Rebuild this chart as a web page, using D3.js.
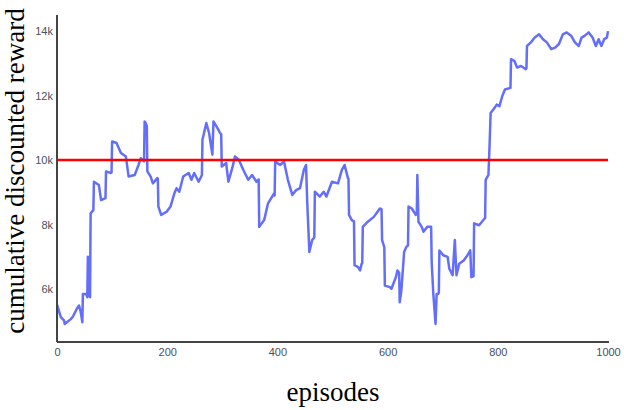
<!DOCTYPE html>
<html>
<head>
<meta charset="utf-8">
<script src="https://cdn.jsdelivr.net/npm/d3@7"></script>
<style>
  body { margin: 0; background: #fff; }
  .axis text { font-family: "Liberation Sans", Arial, sans-serif; font-size: 11px; fill: #4a4f5c; }
  .axis path { stroke: #444; stroke-width: 2; }
  .title { font-family: "Liberation Serif", "Times New Roman", serif; font-size: 27px; fill: #000; }
</style>
</head>
<body>
<div id="chart"></div>
<script>
// values
var episodes = [0, 7, 13, 14, 25, 29, 36, 40, 43, 46, 47, 53, 55, 56, 59, 60, 61, 66, 67, 76, 80, 88, 89, 98, 99, 100, 108, 116, 125, 130, 141, 148, 152, 158, 159, 161, 163, 164, 170, 174, 182, 183, 184, 189, 199, 206, 213, 217, 222, 229, 239, 244, 249, 257, 263, 264, 271, 276, 282, 284, 291, 296, 298, 299, 307, 311, 318, 323, 330, 338, 347, 354, 362, 366, 367, 376, 383, 394, 395, 396, 405, 412, 419, 427, 434, 441, 448, 452, 454, 458, 463, 467, 468, 477, 484, 489, 499, 510, 517, 522, 528, 529, 530, 535, 539, 540, 546, 550, 553, 554, 555, 564, 575, 586, 589, 590, 594, 595, 604, 607, 615, 618, 621, 622, 625, 630, 634, 637, 638, 644, 651, 653, 654, 656, 662, 665, 672, 679, 680, 683, 687, 689, 692, 693, 694, 701, 709, 712, 718, 722, 725, 730, 738, 745, 750, 752, 756, 757, 766, 776, 777, 778, 783, 785, 787, 792, 798, 803, 808, 813, 823, 824, 830, 835, 842, 851, 852, 853, 860, 867, 875, 882, 889, 897, 904, 911, 918, 925, 933, 940, 947, 952, 958, 965, 972, 978, 983, 988, 993, 998, 1000];
var rewards = [5520, 5130, 5020, 4920, 5070, 5150, 5390, 5490, 5300, 4970, 5850, 5850, 5750, 7000, 5800, 5750, 8350, 8450, 9330, 9230, 8760, 8820, 9650, 9600, 9620, 10580, 10530, 10220, 10110, 9490, 9540, 9850, 10060, 9960, 11200, 11150, 11050, 9650, 9490, 9280, 9440, 9420, 8560, 8300, 8400, 8560, 8970, 9130, 9020, 9490, 9600, 9390, 9600, 9330, 9540, 10630, 11150, 10840, 10170, 11200, 11000, 10840, 10800, 9800, 9910, 9330, 9750, 10110, 10010, 9700, 9390, 9540, 9330, 9400, 7930, 8140, 8660, 8970, 8900, 9960, 9850, 9960, 9390, 8920, 9070, 9130, 9700, 9850, 8760, 7150, 7520, 7600, 9020, 8870, 9020, 8870, 9330, 9280, 9700, 9850, 9440, 9420, 8300, 8140, 8100, 6740, 6690, 6580, 6790, 6800, 7930, 8090, 8240, 8500, 8480, 7520, 7300, 6110, 6060, 6010, 6370, 6580, 6500, 5590, 5960, 7150, 7310, 7350, 8560, 8500, 8300, 8350, 9540, 8090, 7930, 7780, 7930, 7930, 6840, 5850, 4920, 5850, 5850, 5900, 7200, 7050, 7000, 6630, 6430, 7520, 6430, 6790, 6890, 7050, 7200, 6370, 6400, 8040, 7980, 8190, 8200, 9390, 9540, 10430, 11460, 11570, 11720, 11670, 11980, 12190, 12240, 13130, 13080, 12870, 12920, 12820, 12850, 13540, 13650, 13800, 13900, 13750, 13650, 13440, 13490, 13600, 13900, 13960, 13860, 13650, 13540, 13800, 13860, 13960, 13800, 13540, 13750, 13540, 13750, 13800, 14000];
var baseline = 10000;
var xTicks = [0, 200, 400, 600, 800, 1000];
var yTicks = [6000, 8000, 10000, 12000, 14000];

var width = 624, height = 410;
var margin = { top: 15, right: 15, bottom: 68, left: 57 };

var svg = d3.select("#chart").append("svg")
    .attr("width", width)
    .attr("height", height);

var x = d3.scaleLinear().domain([0, 1000]).range([margin.left, width - margin.right - 1]);
var y = d3.scaleLinear().domain([4360, 14500]).range([height - margin.bottom, margin.top]);

var data = episodes.map(function (e, i) { return { ep: e, r: rewards[i] }; });

var line = d3.line()
    .x(function (d) { return x(d.ep); })
    .y(function (d) { return y(d.r); });

svg.append("path")
    .datum(data)
    .attr("fill", "none")
    .attr("stroke", "#636efa")
    .attr("stroke-width", 2.5)
    .attr("stroke-linejoin", "round")
    .attr("d", line);

svg.append("line")
    .attr("x1", x(0)).attr("x2", x(1000))
    .attr("y1", y(baseline)).attr("y2", y(baseline))
    .attr("stroke", "#ff0000")
    .attr("stroke-width", 2.5);

svg.append("g")
    .attr("class", "axis")
    .attr("transform", "translate(0," + (height - margin.bottom) + ")")
    .call(d3.axisBottom(x).tickValues(xTicks).tickSize(0).tickPadding(6).tickFormat(d3.format("d")))
    .call(function (g) { g.select(".domain").attr("d", "M" + margin.left + ",0H" + (width - margin.right)); });

svg.append("g")
    .attr("class", "axis")
    .attr("transform", "translate(" + margin.left + ",0)")
    .call(d3.axisLeft(y).tickValues(yTicks).tickSize(0).tickPadding(4).tickFormat(function (d) { return (d / 1000) + "k"; }))
    .call(function (g) { g.select(".domain").attr("d", "M0," + margin.top + "V" + (height - margin.bottom)); });

svg.append("text")
    .attr("class", "title")
    .attr("text-anchor", "middle")
    .attr("x", 333)
    .attr("y", 401)
    .text("episodes");

svg.append("text")
    .attr("class", "title")
    .attr("text-anchor", "middle")
    .attr("transform", "translate(24,171) rotate(-90)")
    .text("cumulative discounted reward");
</script>
</body>
</html>
